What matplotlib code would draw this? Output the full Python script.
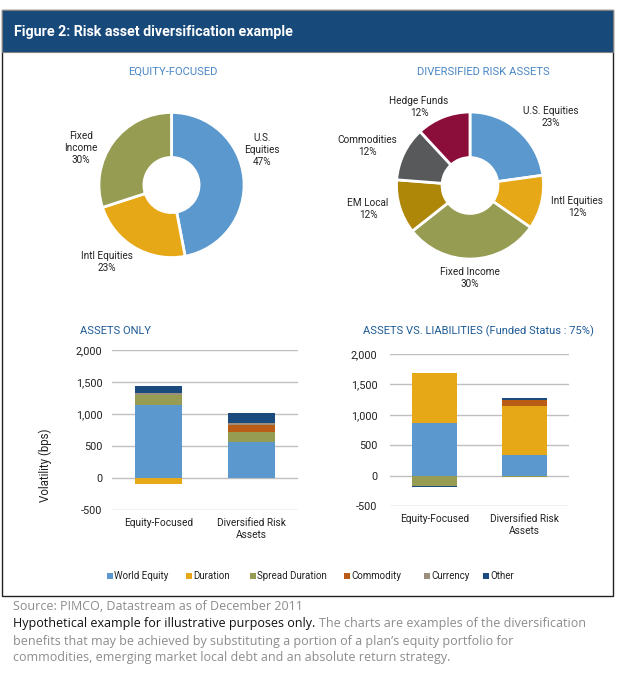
import numpy as np
import matplotlib
matplotlib.use("Agg")
import matplotlib.pyplot as plt
from matplotlib.patches import Rectangle

W, H = 625, 687
NARROW = ['Roboto', 'DejaVu Sans']
plt.rcParams['font.family'] = NARROW

# ---------------- data ----------------
pie1_labels = ["U.S.\nEquities\n47%", "Intl Equities\n23%", "Fixed\nIncome\n30%"]
pie1_values = [47, 23, 30]
pie2_labels = ["U.S. Equities\n23%", "Intl Equities\n12%", "Fixed Income\n30%",
               "EM Local\n12%", "Commodities\n12%", "Hedge Funds\n12%"]
pie2_values = [23, 12, 30, 12, 12, 12]

bar_categories = ["Equity-Focused", "Diversified Risk\nAssets"]
factors = ["World Equity", "Duration", "Spread Duration", "Commodity", "Currency", "Other"]
assets_only = {
    "World Equity":    [1140, 570],
    "Duration":        [-100, 0],
    "Spread Duration": [150, 150],
    "Commodity":       [0, 110],
    "Currency":        [40, 30],
    "Other":           [110, 160],
}
assets_vs_liab = {
    "World Equity":    [860, 345],
    "Duration":        [820, 805],
    "Spread Duration": [-175, -20],
    "Commodity":       [0, 90],
    "Currency":        [10, 10],
    "Other":           [-12, 30],
}
yticks = [-500, 0, 500, 1000, 1500, 2000]

# ---------------- styles ----------------
pie1_colors = ["#5B98CD", "#E6A817", "#969C52"]
pie2_colors = ["#5B98CD", "#E6A817", "#969C52", "#AE8608", "#58595B", "#8B0E3A"]
factor_colors = {"World Equity": "#5B98CD", "Duration": "#E6A817",
                 "Spread Duration": "#969C52", "Commodity": "#B85C16",
                 "Currency": "#9C8E7E", "Other": "#1B4B7D"}
TXT = "#222222"

fig = plt.figure(figsize=(W / 100, H / 100), dpi=100)


def fx(x):
    return x / W


def fy(y):
    return 1 - y / H


def rect(l, t, r, b):
    return [fx(l), fy(b), (r - l) / W, (b - t) / H]


# frame and header
fig.patches.append(Rectangle((fx(2), fy(596)), 611 / W, 586 / H, transform=fig.transFigure,
                             fill=False, edgecolor="#222222", linewidth=1.0))
fig.patches.append(Rectangle((fx(2), fy(52)), 611 / W, 42 / H, transform=fig.transFigure,
                             facecolor="#17497A", edgecolor="#7F7F7F", linewidth=0.8))
fig.text(fx(14), fy(32), "Figure 2: Risk asset diversification example", color="white",
         fontsize=10.3, fontweight="bold", va="center", ha="left")

# ---------------- pies ----------------
def draw_pie(cx, cy, r, values, colors, labels, label_pos):
    ax = fig.add_axes(rect(cx - r, cy - r, cx + r, cy + r))
    ax.pie(values, colors=colors, startangle=90, counterclock=False, radius=1,
           wedgeprops=dict(width=0.62, edgecolor="white", linewidth=2))
    ax.set_xlim(-1.02, 1.02)
    ax.set_ylim(-1.02, 1.02)
    ax.set_aspect("equal")
    ax.axis("off")
    for lab, (px, py) in zip(labels, label_pos):
        fig.text(fx(px), fy(py), lab, ha="center", va="center", fontsize=7.2,
                 color=TXT, linespacing=1.2)


draw_pie(171.5, 185, 74, pie1_values, pie1_colors, pie1_labels,
         [(262, 150), (107, 262), (81, 148)])
draw_pie(470, 185.5, 75, pie2_values, pie2_colors, pie2_labels,
         [(551, 117), (577, 207), (470, 278), (368, 209), (367, 146), (419, 107)])

fig.text(fx(173), fy(72), "EQUITY-FOCUSED", ha="center", va="center", fontsize=8.1, color="#4A86C5")
fig.text(fx(483), fy(72), "DIVERSIFIED RISK ASSETS", ha="center", va="center", fontsize=8.1, color="#4A86C5")

# ---------------- bars ----------------
def draw_bars(box, data, ypad):
    ax = fig.add_axes(rect(*box))
    x = np.arange(len(bar_categories))
    pos_base = np.zeros(len(x))
    neg_base = np.zeros(len(x))
    for f in factors:
        v = np.array(data[f], dtype=float)
        base = np.where(v >= 0, pos_base, neg_base)
        ax.bar(x, v, bottom=base, width=0.5, color=factor_colors[f], zorder=3)
        pos_base += np.where(v >= 0, v, 0)
        neg_base += np.where(v < 0, v, 0)
    ax.set_xlim(-0.5, 1.5)
    ax.set_ylim(-500, 2000)
    ax.set_yticks(yticks)
    ax.set_yticklabels([f"{t:,}" for t in yticks], fontsize=7.8)
    ax.set_xticks(x)
    ax.set_xticklabels(bar_categories, linespacing=1.2, fontsize=7.3)
    ax.grid(axis="y", color="#BFBFBF", linewidth=1, zorder=0)
    for s in ax.spines.values():
        s.set_visible(False)
    ax.tick_params(axis="both", length=0, colors=TXT)
    ax.tick_params(axis="y", pad=ypad)
    ax.tick_params(axis="x", pad=6)
    return ax


draw_bars((112, 350, 298, 510), assets_only, 7)
draw_bars((390, 354, 569, 506), assets_vs_liab, 9)

fig.text(fx(80), fy(331), "ASSETS ONLY", ha="left", va="center", fontsize=8.0, color="#1D5A96")
fig.text(fx(363), fy(331), "ASSETS VS. LIABILITIES (Funded Status : 75%)", ha="left", va="center",
         fontsize=8.0, color="#1D5A96")
fig.text(fx(45), fy(465), "Volatility (bps)", rotation=90, ha="center", va="center",
         fontsize=8.3, color=TXT)

# legend
legend_x = [107, 186, 250, 344, 424, 483]
for f, lx in zip(factors, legend_x):
    fig.patches.append(Rectangle((fx(lx), fy(579)), 6 / W, 6 / H, transform=fig.transFigure,
                                 facecolor=factor_colors[f], edgecolor="none"))
    fig.text(fx(lx + 7), fy(576), f, ha="left", va="center", fontsize=7.0, color=TXT)

# footer
FOOT = ['Open Sans', 'DejaVu Sans']
grey = "#8C8C8C"
fs = 9.0
fig.text(fx(13), fy(607), "Source: PIMCO, Datastream as of December 2011", color=grey,
         fontsize=fs, family=FOOT, va="center", ha="left")
t1 = fig.text(fx(13), fy(624), "Hypothetical example for illustrative purposes only.", color="#111111",
              fontsize=fs, family=FOOT, va="center", ha="left")
fig.canvas.draw()
bb = t1.get_window_extent()
fig.text(bb.x1 / W + 4 / W, fy(624),
         "The charts are examples of the diversification", color=grey,
         fontsize=fs, family=FOOT, va="center", ha="left")
fig.text(fx(13), fy(641), "benefits that may be achieved by substituting a portion of a plan\u2019s equity portfolio for",
         color=grey, fontsize=fs, family=FOOT, va="center", ha="left")
fig.text(fx(13), fy(658), "commodities, emerging market local debt and an absolute return strategy.",
         color=grey, fontsize=fs, family=FOOT, va="center", ha="left")

fig.savefig("out.png", dpi=100)
